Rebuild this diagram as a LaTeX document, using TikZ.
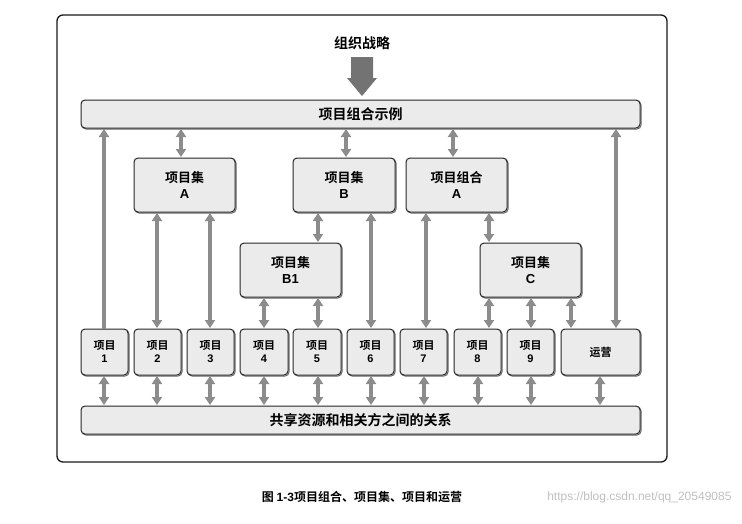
\documentclass[tikz,border=0pt]{standalone}
\usepackage{fontspec}
\setmainfont{Liberation Sans}
\newfontfamily\cjk{Noto Sans CJK SC}[BoldFont={Noto Sans CJK SC Bold}]
\usetikzlibrary{arrows.meta}
\tikzset{
 box/.style={draw=black!85,line width=1pt,fill=black!8,rounded corners=4pt,inner sep=0pt,align=center,font=\cjk\bfseries,
   preaction={draw=black!60,line width=1pt,transform canvas={xshift=1pt,yshift=-1pt},rounded corners=4pt}},
 arr/.style={draw=black!45,line width=3.2pt,{Triangle[width=10pt,length=8pt]}-{Triangle[width=10pt,length=8pt]},shorten <=0.5pt,shorten >=0.5pt},
 uarr/.style={draw=black!45,line width=3.2pt,-{Triangle[width=10pt,length=8pt]},shorten >=0.5pt}
}
\newcommand{\bx}[6]{\node[box,minimum width=#3-#2,minimum height=#5-#4,font=\cjk\bfseries\fontsize{#6}{#6}\selectfont] (#1) at ({(#2+#3)/2},{(#4+#5)/2})}
\begin{document}
\begin{tikzpicture}[x=1pt,y=-1pt]
\useasboundingbox (0,0) rectangle (742,523);
\node[draw=black!90,line width=1.3pt,rounded corners=6pt,minimum width=610,minimum height=447,inner sep=0pt] (frame) at (362,238.5) {};
\node[font=\cjk\bfseries\fontsize{14}{14}\selectfont] (strat) at (362,43) {组织战略};
\bx{top}{81}{640}{100}{128}{14}{项目组合示例};
\fill[black!55] (351,57) -- (373,57) -- (373,78) -- (377,78) -- (362,96) -- (347,78) -- (351,78) -- cycle;
\bx{pA}{134}{235}{158}{212}{13}{项目集\\[3pt]\textrm{A}};
\bx{pB}{293}{395}{158}{212}{13}{项目集\\[3pt]\textrm{B}};
\bx{pfA}{406}{507}{158}{212}{13}{项目组合\\[3pt]\textrm{A}};
\bx{pB1}{240}{341}{243}{297}{13}{项目集\\[3pt]\textrm{B1}};
\bx{pC}{480}{581}{243}{297}{13}{项目集\\[3pt]\textrm{C}};
\bx{p1}{81}{128}{329}{375}{11}{项目\\[2pt]\textrm{1}};
\bx{p2}{134}{181}{329}{375}{11}{项目\\[2pt]\textrm{2}};
\bx{p3}{187}{234}{329}{375}{11}{项目\\[2pt]\textrm{3}};
\bx{p4}{240}{288}{329}{375}{11}{项目\\[2pt]\textrm{4}};
\bx{p5}{293}{341}{329}{375}{11}{项目\\[2pt]\textrm{5}};
\bx{p6}{347}{394}{329}{375}{11}{项目\\[2pt]\textrm{6}};
\bx{p7}{400}{447}{329}{375}{11}{项目\\[2pt]\textrm{7}};
\bx{p8}{454}{501}{329}{375}{11}{项目\\[2pt]\textrm{8}};
\bx{p9}{507}{554}{329}{375}{11}{项目\\[2pt]\textrm{9}};
\bx{op}{561}{640}{329}{375}{11}{运营};
\bx{bot}{81}{640}{406}{434}{14}{共享资源和相关方之间的关系};
% arrows
\draw[uarr] (p1.north -| 104,0) -- (top.south -| 104,0);
\draw[arr] (top.south -| 181,0) -- (pA.north -| 181,0);
\draw[arr] (pA.south -| 157,0) -- (p2.north -| 157,0);
\draw[arr] (pA.south -| 210,0) -- (p3.north -| 210,0);
\draw[arr] (top.south -| 346,0) -- (pB.north -| 346,0);
\draw[arr] (pB.south -| 318,0) -- (pB1.north -| 318,0);
\draw[arr] (pB.south -| 371,0) -- (p6.north -| 371,0);
\draw[arr] (pB1.south -| 264,0) -- (p4.north -| 264,0);
\draw[arr] (pB1.south -| 318,0) -- (p5.north -| 318,0);
\draw[arr] (top.south -| 453,0) -- (pfA.north -| 453,0);
\draw[arr] (pfA.south -| 426,0) -- (p7.north -| 426,0);
\draw[arr] (pfA.south -| 489,0) -- (pC.north -| 489,0);
\draw[arr] (pC.south -| 489,0) -- (p8.north -| 489,0);
\draw[arr] (pC.south -| 531,0) -- (p9.north -| 531,0);
\draw[arr] (pC.south -| 571,0) -- (op.north -| 571,0);
\draw[arr] (top.south -| 616,0) -- (op.north -| 616,0);
\foreach \n/\x in {p1/104,p2/157,p3/210,p4/264,p5/318,p6/371,p7/424,p8/478,p9/531,op/600}
  \draw[arr] (\n.south -| \x,0) -- (bot.north -| \x,0);
\node[font=\cjk\bfseries\fontsize{12}{12}\selectfont] (cap) at (362,497) {图 \textrm{1-3}项目组合、项目集、项目和运营};
\node[font=\fontsize{12}{12}\selectfont,text=black!25,anchor=east] (wm) at (735,497) {https://blog.csdn.net/qq\_20549085};
\end{tikzpicture}
\end{document}
